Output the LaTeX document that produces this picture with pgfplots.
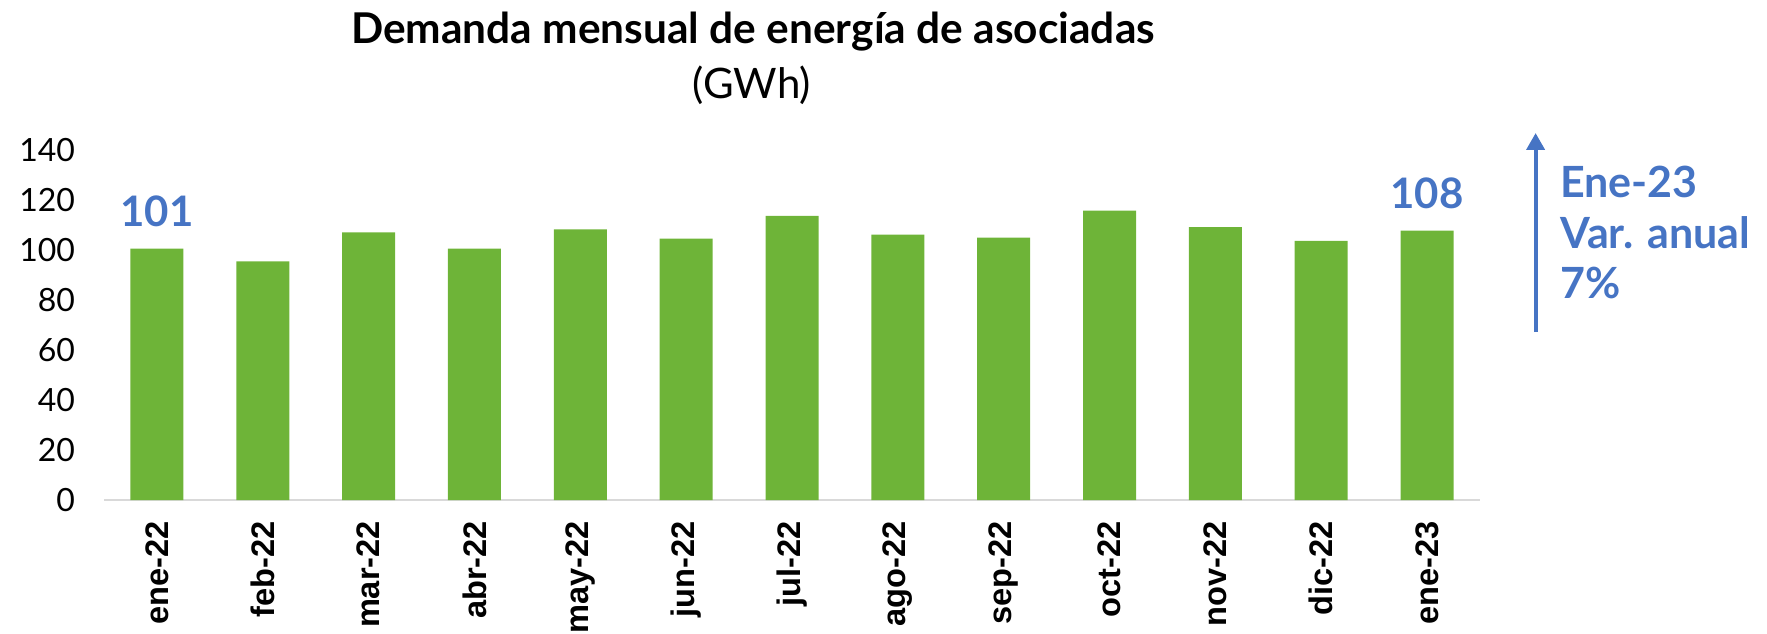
\documentclass[border=0pt]{standalone}
\usepackage{fontspec}
\setmainfont{Lato}
\newfontfamily\arialfont{Liberation Sans}
\usepackage{pgfplots}
\pgfplotsset{compat=1.18}
\usetikzlibrary{arrows.meta}
\definecolor{barra}{RGB}{110,180,56}
\definecolor{azul}{RGB}{70,116,196}

\begin{document}
\begin{tikzpicture}
% page frame: 1 px of the reference = 0.5pt
\useasboundingbox (0,0) rectangle (883.5pt,316.5pt);

\begin{axis}[
  at={(52pt,66.5pt)}, anchor=south west,
  scale only axis,
  width=688pt, height=175pt,
  xmin=-0.5, xmax=12.5,
  ymin=0, ymax=140,
  ytick={0,20,...,140},
  xtick={0,...,12},
  xticklabels={ene-22,feb-22,mar-22,abr-22,may-22,jun-22,jul-22,ago-22,sep-22,oct-22,nov-22,dic-22,ene-23},
  x tick label style={font=\arialfont\bfseries\fontsize{16.3}{16}\selectfont, rotate=90, anchor=east, xshift=-7pt},
  y tick label style={font=\fontsize{16}{16}\selectfont, xshift=-11pt},
  /pgf/number format/assume math mode=true,
  axis x line=bottom, axis y line=left,
  x axis line style={draw=black!15, line width=1pt, -},
  y axis line style={draw=none},
  major tick length=0pt,
  ybar, bar width=26.5pt,
  clip=false,
]
\addplot[fill=barra, draw=none, bar shift=0pt] coordinates {
  (0,100.6) (1,95.5) (2,107.1) (3,100.6) (4,108.3) (5,104.6) (6,113.7)
  (7,106.2) (8,105.0) (9,115.8) (10,109.2) (11,103.7) (12,107.8)
};
\addplot[draw=none, fill=none, bar shift=0pt,
  point meta=explicit symbolic,
  nodes near coords,
  nodes near coords style={font=\bfseries\fontsize{21}{21}\selectfont, text=azul, anchor=south, yshift=7.5pt}]
  coordinates {(0,100.6) [101] (12,107.8) [108]};
\end{axis}

% title
\node[font=\bfseries\fontsize{21.2}{21}\selectfont] at (376.5pt,300.75pt) {Demanda mensual de energía de asociadas};
\node[font=\fontsize{21}{21}\selectfont] at (376pt,273.7pt) {(GWh)};

% annual variation note
\draw[azul, line width=2pt, -{Triangle[width=9pt,length=8.5pt]}] (767.8pt,150.5pt) -- (767.8pt,250pt);
\node[font=\bfseries\fontsize{21.5}{21}\selectfont, text=azul, anchor=west, inner sep=0pt] at (780pt,225.5pt) {Ene-23};
\node[font=\bfseries\fontsize{21.5}{21}\selectfont, text=azul, anchor=west, inner sep=0pt] at (780pt,200pt) {Var. anual};
\node[font=\bfseries\fontsize{21.5}{21}\selectfont, text=azul, anchor=west, inner sep=0pt] at (780pt,175pt) {7\%};
\end{tikzpicture}
\end{document}
